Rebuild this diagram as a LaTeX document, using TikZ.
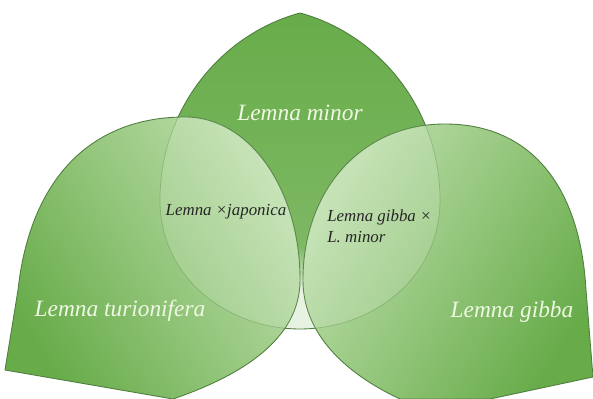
\documentclass[tikz,border=0pt]{standalone}
\usepackage{fontspec}
\setmainfont{Liberation Serif}
\usepackage{xcolor}

\definecolor{leafdark}{HTML}{68AC4A}
\definecolor{leafmid}{HTML}{7DB863}
\definecolor{leaflight}{HTML}{BEDFAC}
\definecolor{leafpale}{HTML}{E8F2E2}
\definecolor{leafline}{HTML}{4F7F3E}
\definecolor{labeltext}{HTML}{EEF8E2}

\pgfdeclareverticalshading{minorshade}{100bp}{color(0bp)=(leafpale); color(25bp)=(leafpale); color(31bp)=(leafpale); color(38bp)=(leafmid); color(75bp)=(leafdark); color(100bp)=(leafdark)}

% leaf outlines, in pixel units
\newcommand\minorleaf{(300,13) .. controls (222,34) and (160,108) .. (160,200) .. controls (160,280) and (230,329) .. (300,329) .. controls (370,329) and (440,280) .. (440,200) .. controls (440,108) and (378,34) .. (300,13) -- cycle}
\newcommand\turionleaf{(5,370) -- (18,290) .. controls (30,180) and (90,117) .. (185,117) .. controls (250,117) and (300,190) .. (300,280) .. controls (300,340) and (240,376) .. (173,399) -- cycle}
\newcommand\gibbaleaf{(593,377) -- (586,290) .. controls (580,185) and (530,124) .. (445,124) .. controls (360,124) and (303,192) .. (303,280) .. controls (303,340) and (355,378) .. (400,399) -- (490,399) -- cycle}

\begin{document}
\begin{tikzpicture}[
    x=0.02cm, y=-0.02cm,
    leafedge/.style={draw=leafline,line width=0.5pt},
    biglabel/.style={text=labeltext,font=\fontsize{13.3}{16}\selectfont\itshape,inner sep=0pt},
    smalllabel/.style={text=black!85,font=\fontsize{9.6}{12}\selectfont\itshape,inner sep=0pt}
  ]
  \useasboundingbox (0,0) rectangle (593,399);

  % the three fronds
  \path[leafedge,shading=minorshade] \minorleaf;
  \path[leafedge,top color=leaflight,bottom color=leafdark,shading angle=-58] \turionleaf;
  \path[leafedge,top color=leaflight,bottom color=leafdark,shading angle=58] \gibbaleaf;

  % overlaps
  \begin{scope}
    \clip \turionleaf;
    \fill[white,opacity=.15] \minorleaf;
    \draw[leafline,opacity=.35,line width=.4pt] \minorleaf;
  \end{scope}
  \begin{scope}
    \clip \gibbaleaf;
    \fill[white,opacity=.15] \minorleaf;
    \draw[leafline,opacity=.35,line width=.4pt] \minorleaf;
  \end{scope}

  % labels
  \node[biglabel] (minor) at (300,113) {Lemna minor};
  \node[biglabel] (turion) at (120,311) {Lemna turionifera};
  \node[biglabel] (gibba) at (512,312) {Lemna gibba};
  \node[smalllabel] (japonica) at (226,212) {Lemna ×japonica};
  \node[smalllabel,anchor=west,align=left] (hybrid) at (327,226) {Lemna gibba ×\\L. minor};
\end{tikzpicture}
\end{document}
